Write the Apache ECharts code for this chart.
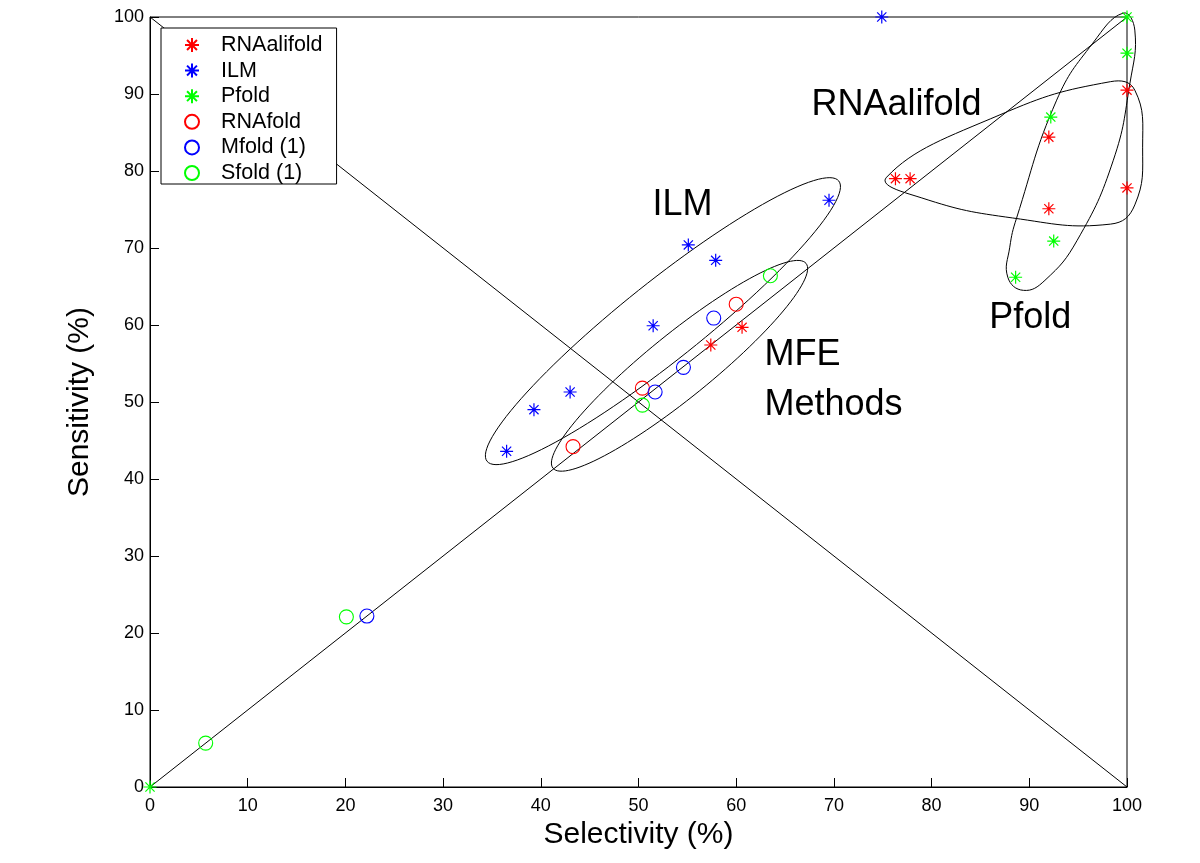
<!DOCTYPE html>
<html>
<head>
<meta charset="utf-8">
<script src="https://cdn.jsdelivr.net/npm/echarts@6/dist/echarts.min.js"></script>
<style>
  html, body { margin: 0; padding: 0; background: #fff; }
  #chart { width: 1200px; height: 863px; }
</style>
</head>
<body>
<div id="chart"></div>
<script>
// data: selectivity (x) / sensitivity (y), in %
const rnaalifoldSel = [76.3, 77.8, 92.0, 100, 92.0, 100, 57.4, 60.6];
const rnaalifoldSen = [79.0, 79.0, 84.4, 90.5, 75.1, 77.8, 57.4, 59.7];
const ilmSel = [74.9, 69.5, 55.1, 57.9, 51.5, 43.0, 39.3, 36.5];
const ilmSen = [100, 76.2, 70.4, 68.4, 59.9, 51.3, 49.0, 43.6];
const pfoldSel = [100, 100, 92.2, 92.5, 88.6, 0];
const pfoldSen = [100, 95.3, 87.0, 70.9, 66.2, 0];
const rnafoldSel = [60.0, 50.4, 43.3];
const rnafoldSen = [62.7, 51.8, 44.2];
const mfoldSel = [57.7, 54.6, 51.7, 22.2];
const mfoldSen = [60.9, 54.5, 51.3, 22.2];
const sfoldSel = [63.5, 50.4, 20.1, 5.7];
const sfoldSen = [66.4, 49.6, 22.1, 5.7];

const seriesNames = ['RNAalifold', 'ILM', 'Pfold', 'RNAfold', 'Mfold (1)', 'Sfold (1)'];

// group outlines (annotation shapes, data coords)
const ilmEllipse = { c: [52.5, 60.5], a: [18.0, 18.2], b: [2.5, -4.0] };
const mfeEllipse = { c: [54.2, 54.7], a: [12.95, 13.3], b: [2.06, -3.23] };
const alifoldOutline = [[75.4, 79.2], [87.0, 87.3], [98.3, 91.6], [100.8, 90.5], [101.6, 83.1],
  [100.8, 75.6], [98.3, 73.1], [88.3, 73.9], [79.0, 76.5]];
const pfoldOutline = [[99.6, 100.5], [100.8, 98.3], [100.3, 91.4], [98.6, 81.4], [94.9, 71.0],
  [91.6, 65.8], [89.4, 64.5], [87.8, 66.2], [88.0, 70.1], [88.7, 73.9], [92.8, 89.2], [96.5, 96.6]];

// text labels inside the plot
const noteText = ['ILM', 'RNAalifold', 'MFE', 'Methods', 'Pfold'];
const noteX = [54.5, 76.4, 62.9, 62.9, 90.1];
const noteY = [75.6, 88.6, 56.1, 49.6, 60.9];
const noteAlign = ['center', 'center', 'left', 'left', 'center'];

const FONT = 'Liberation Sans, Arial, Helvetica, sans-serif';
const STAR = 'path://M0,-10L0,10M-10,0L10,0M-7.07,-7.07L7.07,7.07M-7.07,7.07L7.07,-7.07';

function zip(xs, ys) {
  return xs.map((x, i) => [x, ys[i]]);
}

function starSeries(name, xs, ys, color) {
  return {
    name: name,
    type: 'scatter',
    symbol: STAR,
    symbolSize: 13,
    data: zip(xs, ys),
    itemStyle: { color: color, borderColor: color, borderWidth: 1.2, opacity: 1 },
    z: 5
  };
}

function circleSeries(name, xs, ys, color) {
  return {
    name: name,
    type: 'scatter',
    symbol: 'circle',
    symbolSize: 14,
    data: zip(xs, ys),
    itemStyle: { color: 'rgba(0,0,0,0)', borderColor: color, borderWidth: 1.1, opacity: 1 },
    z: 5
  };
}

function ellipseItem(e) {
  return function (params, api) {
    const pts = [];
    for (let k = 0; k < 120; k++) {
      const t = (k / 120) * Math.PI * 2;
      const x = e.c[0] + e.a[0] * Math.cos(t) + e.b[0] * Math.sin(t);
      const y = e.c[1] + e.a[1] * Math.cos(t) + e.b[1] * Math.sin(t);
      pts.push(api.coord([x, y]));
    }
    return {
      type: 'polygon',
      shape: { points: pts },
      style: { fill: 'none', stroke: '#000', lineWidth: 1 }
    };
  };
}

function outlineItem(outline) {
  return function (params, api) {
    return {
      type: 'polygon',
      shape: { points: outline.map(p => api.coord(p)), smooth: 0.45 },
      style: { fill: 'none', stroke: '#000', lineWidth: 1 }
    };
  };
}

function shapeSeries(renderItem) {
  return {
    type: 'custom',
    silent: true,
    clip: false,
    data: [[0, 0]],
    renderItem: renderItem,
    z: 2
  };
}

const chart = echarts.init(document.getElementById('chart'));

chart.setOption({
  animation: false,
  backgroundColor: '#fff',
  textStyle: { fontFamily: FONT },
  grid: {
    left: 150, right: 73, top: 17, bottom: 76,
    show: true, borderColor: '#000', borderWidth: 1, backgroundColor: 'rgba(0,0,0,0)'
  },
  legend: {
    data: seriesNames,
    orient: 'vertical',
    left: 161,
    top: 28,
    padding: [6, 14, 0, 23],
    itemWidth: 20,
    itemHeight: 14,
    itemGap: 3.6,
    backgroundColor: '#fff',
    borderColor: '#000',
    borderWidth: 1,
    textStyle: { fontSize: 21.5, color: '#000', fontFamily: FONT, padding: [0, 0, 0, 14] }
  },
  xAxis: {
    type: 'value',
    min: 0, max: 100, interval: 10,
    name: 'Selectivity (%)',
    nameLocation: 'middle',
    nameGap: 33,
    nameTextStyle: { fontSize: 30, color: '#000', fontFamily: FONT },
    axisLine: { lineStyle: { color: '#000', width: 1 } },
    axisTick: { inside: true, length: 9, lineStyle: { color: '#000' } },
    axisLabel: { fontSize: 18, color: '#000', margin: 10, fontFamily: FONT },
    splitLine: { show: false }
  },
  yAxis: {
    type: 'value',
    min: 0, max: 100, interval: 10,
    name: 'Sensitivity (%)',
    nameLocation: 'middle',
    nameGap: 55,
    nameTextStyle: { fontSize: 30, color: '#000', fontFamily: FONT },
    axisLine: { lineStyle: { color: '#000', width: 1 } },
    axisTick: { inside: true, length: 9, lineStyle: { color: '#000' } },
    axisLabel: { fontSize: 18, color: '#000', margin: 6, fontFamily: FONT },
    splitLine: { show: false }
  },
  series: [
    {
      type: 'line',
      silent: true,
      symbol: 'none',
      data: [[0, 0], [100, 100]],
      lineStyle: { color: '#000', width: 1 },
      z: 1
    },
    {
      type: 'line',
      silent: true,
      symbol: 'none',
      data: [[0, 100], [100, 0]],
      lineStyle: { color: '#000', width: 1 },
      z: 1
    },
    shapeSeries(ellipseItem(ilmEllipse)),
    shapeSeries(ellipseItem(mfeEllipse)),
    shapeSeries(outlineItem(alifoldOutline)),
    shapeSeries(outlineItem(pfoldOutline)),
    {
      type: 'custom',
      silent: true,
      clip: false,
      data: noteText.map((t, i) => [noteX[i], noteY[i], i]),
      renderItem: function (params, api) {
        const i = api.value(2);
        const p = api.coord([api.value(0), api.value(1)]);
        return {
          type: 'text',
          x: p[0],
          y: p[1],
          style: {
            text: noteText[i],
            fontSize: 36,
            fontFamily: FONT,
            fill: '#000',
            align: noteAlign[i],
            verticalAlign: 'middle'
          }
        };
      },
      z: 3
    },
    starSeries('RNAalifold', rnaalifoldSel, rnaalifoldSen, '#ff0000'),
    starSeries('ILM', ilmSel, ilmSen, '#0000ff'),
    starSeries('Pfold', pfoldSel, pfoldSen, '#00ff00'),
    circleSeries('RNAfold', rnafoldSel, rnafoldSen, '#ff0000'),
    circleSeries('Mfold (1)', mfoldSel, mfoldSen, '#0000ff'),
    circleSeries('Sfold (1)', sfoldSel, sfoldSen, '#00ff00')
  ]
});
</script>
</body>
</html>
